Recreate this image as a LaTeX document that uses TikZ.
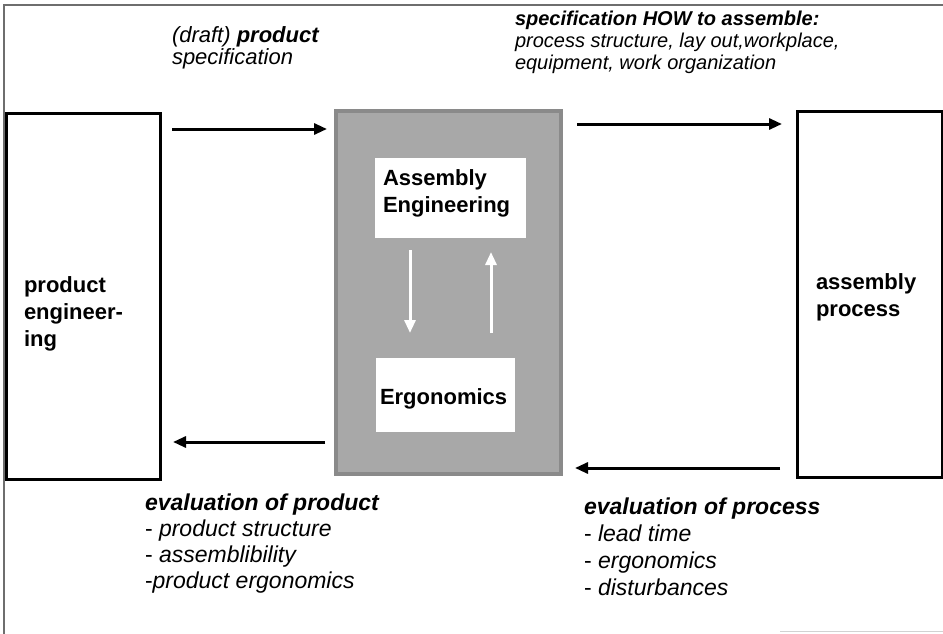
\documentclass[tikz,border=0pt]{standalone}
\usepackage{fontspec}
\setmainfont{Liberation Sans}
\usetikzlibrary{arrows.meta}
\definecolor{boxfill}{RGB}{168,168,168}
\definecolor{boxedge}{RGB}{138,138,138}
\definecolor{framecol}{RGB}{110,110,110}
\begin{document}
\begin{tikzpicture}[x=1pt,y=-1pt,
  every node/.style={outer sep=0pt},
  sidebox/.style={draw=black, line width=3pt, fill=white, inner sep=0pt},
  graybox/.style={draw=boxedge, line width=4pt, fill=boxfill, inner sep=0pt},
  whitebox/.style={fill=white, inner sep=0pt},
  lbl/.style={anchor=base west, inner sep=0pt, align=left, font=\bfseries\fontsize{22}{27}\selectfont},
  note/.style={anchor=base west, inner sep=0pt, align=left},
  blackarrow/.style={draw=black, line width=3pt, -{Triangle[length=13pt,width=11pt]}},
  whitearrow/.style={draw=white, line width=3pt, -{Triangle[length=13pt,width=11pt]}}]
\useasboundingbox (0,0) rectangle (943,634);
\fill[white] (0,0) rectangle (943,634);
% frame
\draw[framecol, line width=1.2pt] (4,634) -- (4,5) -- (943,5);
\draw[gray!35, line width=1pt] (780,631) -- (943,631);

% main boxes
\node[sidebox, minimum width=154pt, minimum height=366pt] (pe) at (83,296) {};
\node[sidebox, minimum width=145pt, minimum height=366pt] (ap) at (869.5,294) {};
\node[graybox, minimum width=225pt, minimum height=363pt] (ae) at (448.5,292.5) {};
\node[whitebox, minimum width=151pt, minimum height=80pt] (asm) at (450.5,198) {};
\node[whitebox, minimum width=139pt, minimum height=74pt] (erg) at (445.5,395) {};

% box labels (anchored at the baseline of the last line)
\node[lbl] (pet) at (24,346) {product\\engineer-\\ing};
\node[lbl] (apt) at (816,316) {assembly\\process};
\node[lbl] (asmt) at (383,212) {Assembly\\Engineering};
\node[lbl] (ergt) at (380,404) {Ergonomics};

% notes (anchored at the baseline of the last line)
\node[note, font=\fontsize{22}{22}\selectfont] (n1) at (172,65)
  {\textit{(draft)} \textbf{\textit{product}}\\\textit{specification}};
\node[note, font=\fontsize{20}{22}\selectfont] (n2) at (515,70)
  {\textbf{\textit{specification HOW to assemble:}}\\\textit{process structure, lay out,workplace,}\\\textit{equipment, work organization}};
\node[note, font=\fontsize{23}{26}\selectfont] (n3) at (145,588)
  {\textbf{\textit{evaluation of product}}\\- \textit{product structure}\\- \textit{assemblibility}\\-\textit{product ergonomics}};
\node[note, font=\fontsize{23}{27}\selectfont] (n4) at (584,595)
  {\textbf{\textit{evaluation of process}}\\- \textit{lead time}\\- \textit{ergonomics}\\- \textit{disturbances}};

% black arrows
\draw[blackarrow, shorten <=12pt, shorten >=9pt] (pe.east |- 0,129) -- (ae.west |- 0,129);
\draw[blackarrow, shorten <=16pt, shorten >=15pt] (ae.east |- 0,124) -- (ap.west |- 0,124);
\draw[blackarrow, shorten <=11pt, shorten >=13pt] (ae.west |- 0,442) -- (pe.east |- 0,442);
\draw[blackarrow, shorten <=17pt, shorten >=14pt] (ap.west |- 0,468) -- (ae.east |- 0,468);

% white arrows
\draw[whitearrow, shorten <=12pt, shorten >=25pt] (asm.south -| 410,0) -- (erg.north -| 410,0);
\draw[whitearrow, shorten <=25pt, shorten >=14pt] (erg.north -| 491,0) -- (asm.south -| 491,0);
\end{tikzpicture}
\end{document}
